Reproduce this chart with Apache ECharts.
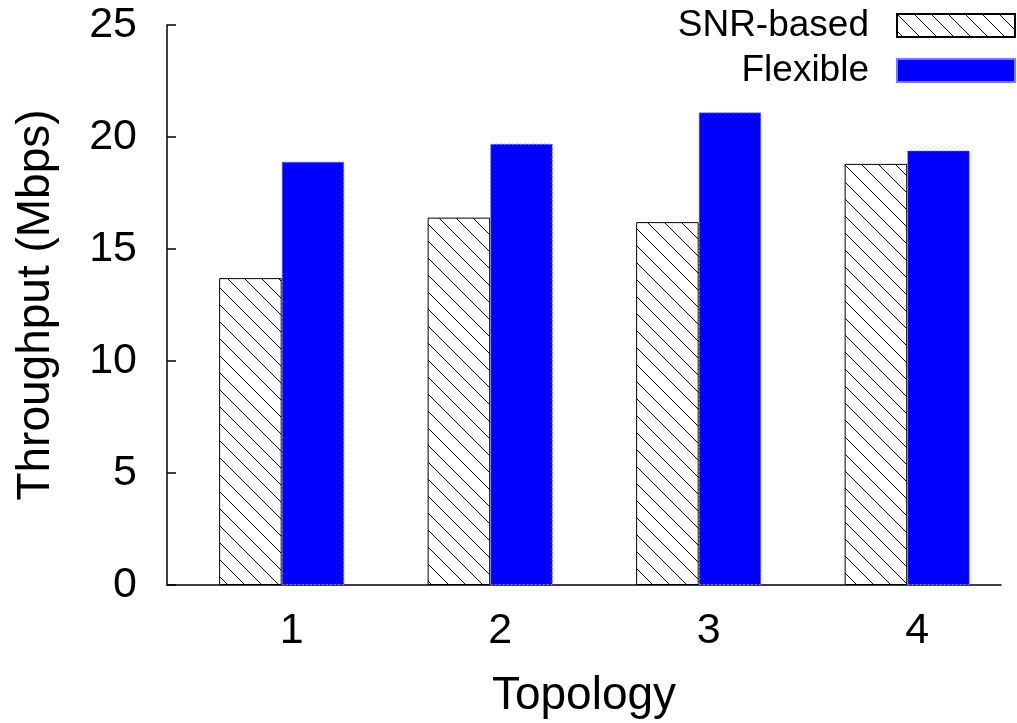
<!DOCTYPE html>
<html>
<head>
<meta charset="utf-8">
<script src="https://cdn.jsdelivr.net/npm/echarts@6/dist/echarts.min.js"></script>
<style>
  html, body { margin: 0; padding: 0; background: #fff; }
  #chart { width: 1017px; height: 723px; }
</style>
</head>
<body>
<div id="chart"></div>
<script>
// Throughput per topology for the two rate-selection schemes
const categories = ['1', '2', '3', '4'];
const seriesNames = ['SNR-based', 'Flexible'];
const snrBased = [13.7, 16.4, 16.2, 18.8];
const flexible = [18.9, 19.7, 21.1, 19.4];
const yTicks = [0, 5, 10, 15, 20, 25];

const FONT = '"Liberation Sans", Arial, Helvetica, sans-serif';

// Diagonal hatch tile (lines running from upper-left to lower-right)
function makeHatch() {
  const s = 17;
  const c = document.createElement('canvas');
  c.width = s; c.height = s;
  const g = c.getContext('2d');
  g.fillStyle = '#fff';
  g.fillRect(0, 0, s, s);
  g.strokeStyle = '#000';
  g.lineWidth = 1;
  g.beginPath();
  g.moveTo(-2, -2); g.lineTo(s + 2, s + 2);
  g.moveTo(-2 - s, -2); g.lineTo(2, s + 2);
  g.moveTo(s - 2, -2); g.lineTo(2 * s + 2, s + 2);
  g.stroke();
  return c;
}
const hatch = { image: makeHatch(), repeat: 'repeat' };

const chart = echarts.init(document.getElementById('chart'), null, { renderer: 'canvas' });

chart.setOption({
  animation: false,
  backgroundColor: '#fff',
  grid: { left: 167, right: 16, top: 25, bottom: 138, containLabel: false, outerBoundsMode: 'none' },
  legend: {
    orient: 'vertical',
    right: 1,
    top: 7,
    padding: 0,
    align: 'right',
    icon: 'rect',
    itemWidth: 118,
    itemHeight: 23,
    itemGap: 8,
    selectedMode: false,
    textStyle: { fontFamily: FONT, fontSize: 37, lineHeight: 37, color: '#000', padding: [0, 23, 0, 0] },
    data: seriesNames
  },
  xAxis: {
    type: 'value',
    min: -0.55,
    max: 3.45,
    name: 'Topology',
    nameLocation: 'middle',
    nameGap: 88,
    nameTextStyle: { fontFamily: FONT, fontSize: 46, color: '#000' },
    axisLine: { show: true, onZero: false, lineStyle: { color: '#000', width: 1.5 } },
    axisTick: { show: false },
    splitLine: { show: false },
    axisLabel: {
      customValues: categories.map((_, i) => i),
      formatter: v => categories[Math.round(v)],
      fontFamily: FONT, fontSize: 43, color: '#000',
      margin: 25,
      padding: [0, 0, 0, 20]
    }
  },
  yAxis: {
    type: 'value',
    min: yTicks[0],
    max: yTicks[yTicks.length - 1],
    interval: 5,
    name: 'Throughput (Mbps)',
    nameLocation: 'middle',
    nameGap: 108,
    nameTextStyle: { fontFamily: FONT, fontSize: 46, color: '#000' },
    axisLine: { show: true, onZero: false, lineStyle: { color: '#000', width: 1.5 } },
    axisTick: { show: true, inside: true, length: 9, lineStyle: { color: '#000', width: 1.5 } },
    splitLine: { show: false },
    axisLabel: { fontFamily: FONT, fontSize: 43, color: '#000', margin: 30 }
  },
  series: [
    {
      name: seriesNames[0],
      type: 'bar',
      barWidth: '30%',
      barGap: '0%',
      data: snrBased.map((v, i) => [i, v]),
      itemStyle: { color: hatch, borderColor: '#000', borderWidth: 1 }
    },
    {
      name: seriesNames[1],
      type: 'bar',
      barWidth: '30%',
      barGap: '0%',
      data: flexible.map((v, i) => [i, v]),
      itemStyle: { color: '#0000ff', borderColor: '#7777ff', borderWidth: 1, borderType: [2, 2] }
    }
  ]
});
</script>
</body>
</html>
